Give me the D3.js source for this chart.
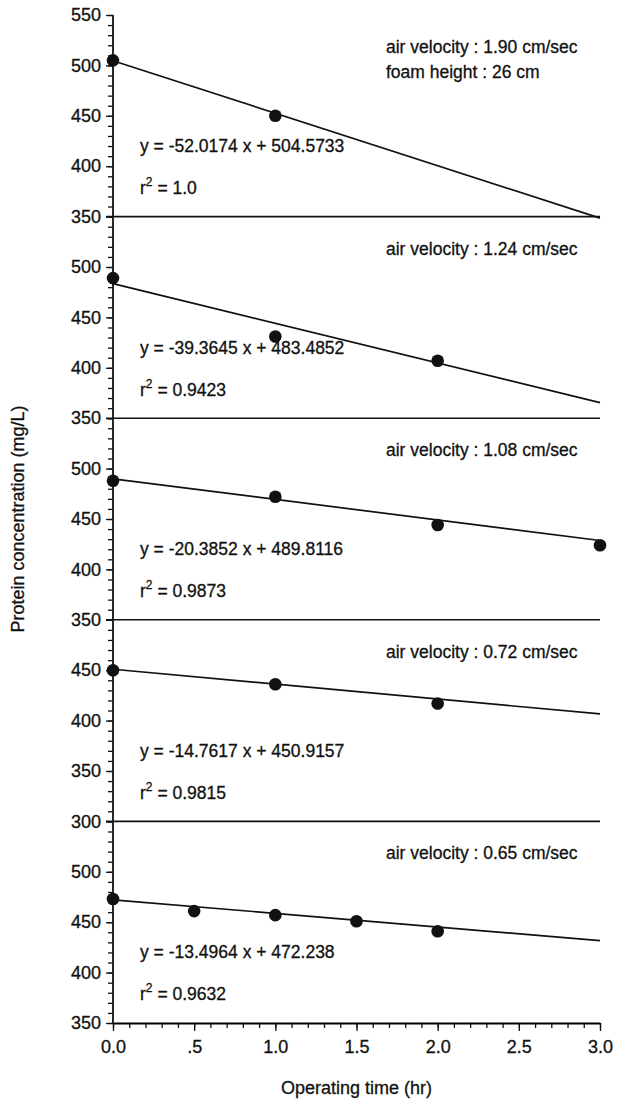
<!DOCTYPE html>
<html>
<head>
<meta charset="utf-8">
<script src="https://cdn.jsdelivr.net/npm/d3@7"></script>
<style>
  body { margin: 0; background: #fff; }
  text { font-family: "Liberation Sans", Arial, sans-serif; fill: #111; stroke: #111; stroke-width: 0.3px; }
</style>
</head>
<body>
<svg id="chart" width="637" height="1110"></svg>
<script>
// panels, top to bottom
const velocityLabels = [
    "air velocity : 1.90 cm/sec",
    "air velocity : 1.24 cm/sec",
    "air velocity : 1.08 cm/sec",
    "air velocity : 0.72 cm/sec",
    "air velocity : 0.65 cm/sec"
];
const foamLabel = "foam height : 26 cm";
const yDomains = [[350, 550], [350, 550], [350, 550], [300, 500], [350, 550]];
const times = [
    [0, 1],
    [0, 1, 2],
    [0, 1, 2, 3],
    [0, 1, 2],
    [0, 0.5, 1, 1.5, 2]
];
const concentrations = [
    [505, 450],
    [489, 431, 407],
    [488, 472, 444, 424],
    [450, 436, 417],
    [473, 461, 457, 451, 441]
];
const slopes = [-52.0174, -39.3645, -20.3852, -14.7617, -13.4964];
const intercepts = [504.5733, 483.4852, 489.8116, 450.9157, 472.238];
const r2Values = ["1.0", "0.9423", "0.9873", "0.9815", "0.9632"];
const xTicks = [0, 0.5, 1, 1.5, 2, 2.5, 3];
const xTickLabels = ["0.0", ".5", "1.0", "1.5", "2.0", "2.5", "3.0"];

const svg = d3.select("#chart");
const yTop = 15, yBottom = 1023;
const panelH = (yBottom - yTop) / yDomains.length;
const x = d3.scaleLinear().domain([0, 3]).range([113, 600]);

const g = svg.append("g");

yDomains.forEach((dom, i) => {
    const y0 = yTop + i * panelH;
    const y = d3.scaleLinear().domain(dom).range([y0 + panelH, y0]);
    const p = g.append("g");

    // minor ticks every 10
    p.append("g")
        .attr("transform", `translate(${x(0)},0)`)
        .call(d3.axisLeft(y).tickValues(d3.range(dom[0], dom[1] + 1, 10)).tickSize(5).tickFormat(""))
        .call(a => a.select(".domain").remove());

    // labelled ticks every 50 (top one belongs to the panel above)
    const major = d3.range(dom[0], dom[1] + 1, 50).filter(v => i === 0 || v !== dom[1]);
    p.append("g")
        .attr("transform", `translate(${x(0)},0)`)
        .call(d3.axisLeft(y).tickValues(major).tickSize(7).tickPadding(5))
        .call(a => a.select(".domain").remove())
        .call(a => a.selectAll("text").style("font-size", "18px").attr("font-family", null));

    // separator line between panels
    if (i < yDomains.length - 1) {
        p.append("line")
            .attr("x1", x(0) - 7).attr("x2", x(3))
            .attr("y1", y(dom[0])).attr("y2", y(dom[0]))
            .attr("stroke", "#111").attr("stroke-width", 1.6);
    }

    // regression line
    p.append("line")
        .attr("x1", x(0)).attr("y1", y(intercepts[i]))
        .attr("x2", x(3)).attr("y2", y(slopes[i] * 3 + intercepts[i]))
        .attr("stroke", "#111").attr("stroke-width", 1.7);

    // data points
    p.selectAll("circle")
        .data(times[i].map((t, k) => [t, concentrations[i][k]]))
        .join("circle")
        .attr("cx", d => x(d[0]))
        .attr("cy", d => y(d[1]))
        .attr("r", 6.3)
        .attr("fill", "#111");

    // annotations
    p.append("text")
        .attr("x", 386).attr("y", y0 + 38)
        .style("font-size", "17.5px")
        .text(velocityLabels[i]);
    if (i === 0) {
        p.append("text")
            .attr("x", 386).attr("y", y0 + 63)
            .style("font-size", "17.5px")
            .text(foamLabel);
    }
    p.append("text")
        .attr("x", 140).attr("y", y0 + 137)
        .style("font-size", "17.5px")
        .text(`y = ${slopes[i]} x + ${intercepts[i]}`);
    const r2 = p.append("text")
        .attr("x", 140).attr("y", y0 + 179)
        .style("font-size", "17.5px");
    r2.append("tspan").text("r");
    r2.append("tspan").attr("dy", -8).style("font-size", "12px").text("2");
    r2.append("tspan").attr("dy", 8).text(" = " + r2Values[i]);
});

// vertical axis line
g.append("line")
    .attr("x1", x(0)).attr("x2", x(0))
    .attr("y1", yTop).attr("y2", yBottom)
    .attr("stroke", "#111").attr("stroke-width", 1.8);

// x axis: minor ticks then labelled ticks
g.append("g")
    .attr("transform", `translate(0,${yBottom})`)
    .call(d3.axisBottom(x).tickValues(d3.range(0, 31).map(k => k / 10)).tickSize(5).tickSizeOuter(0).tickFormat(""))
    .call(a => a.select(".domain").attr("stroke-width", 1.8));
g.append("g")
    .attr("transform", `translate(0,${yBottom})`)
    .call(d3.axisBottom(x).tickValues(xTicks).tickSize(8).tickPadding(9)
        .tickFormat((d, k) => xTickLabels[k]))
    .call(a => a.select(".domain").remove())
    .call(a => a.selectAll("text").style("font-size", "18px").attr("font-family", null));

g.selectAll(".tick line").attr("stroke", "#111").attr("stroke-width", 1.3);

// axis titles
svg.append("text")
    .attr("x", (x(0) + x(3)) / 2).attr("y", 1094)
    .attr("text-anchor", "middle")
    .style("font-size", "18px")
    .text("Operating time (hr)");
svg.append("text")
    .attr("transform", `translate(24,${(yTop + yBottom) / 2}) rotate(-90)`)
    .attr("text-anchor", "middle")
    .style("font-size", "18px")
    .text("Protein concentration (mg/L)");
</script>
</body>
</html>
